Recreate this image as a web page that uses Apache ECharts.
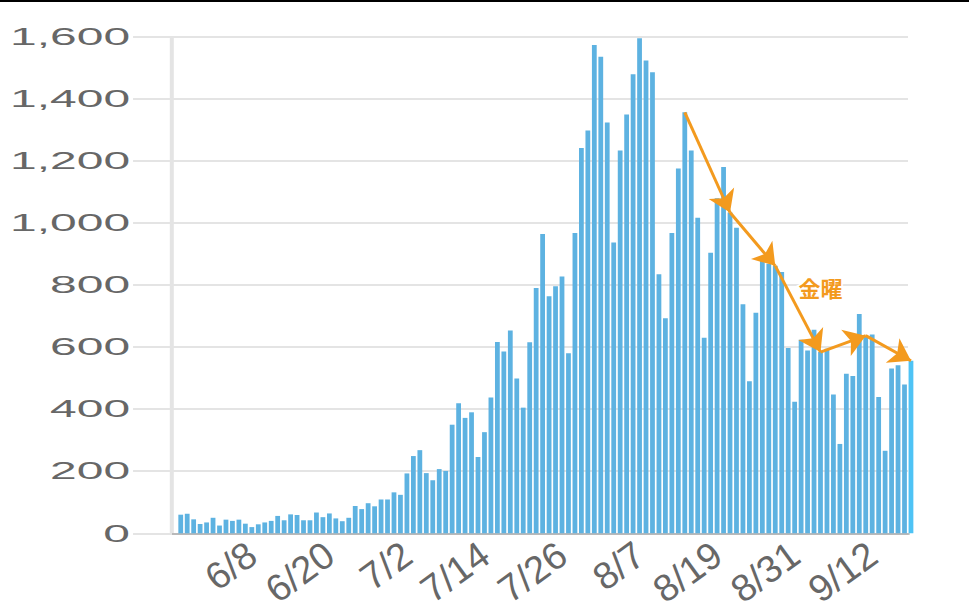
<!DOCTYPE html>
<html>
<head>
<meta charset="utf-8">
<script src="https://cdn.jsdelivr.net/npm/echarts@6/dist/echarts.min.js"></script>
<style>
  html, body { margin: 0; padding: 0; background: #fff; }
  body { width: 969px; height: 614px; position: relative; overflow: hidden; }
  #topline { position: absolute; left: 0; top: 0; width: 969px; height: 2px; background: #000; z-index: 5; }
  #c { position: absolute; left: 0; top: 0; width: 485px; height: 614px; transform-origin: 0 0; }
  #o { position: absolute; left: 0; top: 0; width: 969px; height: 614px; pointer-events: none; }
</style>
</head>
<body>
<div id="topline"></div>
<div id="c"></div>
<div id="o"></div>
<script>
// ---- data ----
const categories = [
  '5/27','5/28','5/29','5/30','5/31',
  '6/1','6/2','6/3','6/4','6/5','6/6','6/7','6/8','6/9','6/10','6/11','6/12','6/13','6/14','6/15',
  '6/16','6/17','6/18','6/19','6/20','6/21','6/22','6/23','6/24','6/25','6/26','6/27','6/28','6/29','6/30',
  '7/1','7/2','7/3','7/4','7/5','7/6','7/7','7/8','7/9','7/10','7/11','7/12','7/13','7/14','7/15','7/16',
  '7/17','7/18','7/19','7/20','7/21','7/22','7/23','7/24','7/25','7/26','7/27','7/28','7/29','7/30','7/31',
  '8/1','8/2','8/3','8/4','8/5','8/6','8/7','8/8','8/9','8/10','8/11','8/12','8/13','8/14','8/15','8/16',
  '8/17','8/18','8/19','8/20','8/21','8/22','8/23','8/24','8/25','8/26','8/27','8/28','8/29','8/30','8/31',
  '9/1','9/2','9/3','9/4','9/5','9/6','9/7','9/8','9/9','9/10','9/11','9/12','9/13','9/14','9/15','9/16','9/17'
];
const cases = [
  60, 63, 45, 30, 35,
  50, 25, 44, 40, 44, 31, 20, 29, 35, 40, 56, 42, 61, 59, 42,
  42, 67, 52, 64, 48, 39, 50, 88, 78, 97, 87, 109, 109, 132, 124,
  193, 249, 268, 194, 171, 207, 201, 350, 419, 372, 390, 246, 326, 438, 617, 586,
  654, 499, 405, 616, 791, 965, 764, 796, 828, 580, 968, 1242, 1298, 1574, 1536,
  1324, 937, 1234, 1350, 1480, 1596, 1524, 1486, 835, 693, 968, 1176, 1357, 1234, 1017, 630,
  904, 1080, 1181, 1034, 985, 738, 490, 711, 891, 869, 862, 842, 597, 424, 624,
  589, 656, 584, 595, 447, 288, 514, 507, 707, 637, 641, 439, 266, 531, 542, 480, 556
];
const xTickLabels = ['6/8','6/20','7/2','7/14','7/26','8/7','8/19','8/31','9/12'];
const yTicks = [0, 200, 400, 600, 800, 1000, 1200, 1400, 1600];
const fridays = ['8/13','8/20','8/27','9/3','9/10','9/17'];
const annotationText = '金曜';

// ---- layout (plot area of the reference is horizontally stretched x2) ----
const W = 485, H = 614, S = 969 / W;
document.getElementById('c').style.transform = 'scaleX(' + S + ')';
const TOP = 36.9, BOTTOM = 614 - 533.3;
const axisLeftPx = 172, axisRightPx = 908;
const bandLeftPx = 177.5, bandRightPx = 914.2;
const labelShift = 6;

const barColor = '#5DB2E1';
const lastColor = '#4EC3F5';
const gridColor = '#e4e4e4';
const labelColor = '#676767';
const orange = '#F39A1E';
const fontFam = 'Liberation Sans, Arial, Helvetica, sans-serif';

const barData = cases.map((v, i) => i === cases.length - 1
  ? { value: v, itemStyle: { color: lastColor } }
  : v);

const chart = echarts.init(document.getElementById('c'), null, { renderer: 'svg' });
chart.setOption({
  animation: false,
  backgroundColor: '#fff',
  grid: [
    { left: axisLeftPx / S, right: W - axisRightPx / S, top: TOP, bottom: BOTTOM },
    { left: bandLeftPx / S, right: W - bandRightPx / S, top: TOP, bottom: BOTTOM }
  ],
  xAxis: [
    { gridIndex: 0, type: 'value', min: 0, max: 1,
      axisLine: { show: true, onZero: false, lineStyle: { color: '#b9b9b9', width: 2 } },
      axisTick: { show: false }, axisLabel: { show: false }, splitLine: { show: false } },
    { gridIndex: 1, type: 'category', data: categories, boundaryGap: true,
      axisLine: { show: false }, axisTick: { show: false }, splitLine: { show: false },
      axisLabel: { show: false } }
  ],
  yAxis: [
    { gridIndex: 0, type: 'value', min: yTicks[0], max: yTicks[yTicks.length - 1], interval: 200,
      axisLine: { show: true, lineStyle: { color: gridColor, width: 2 } },
      axisTick: { show: true, length: 19.5, lineStyle: { color: gridColor, width: 2 } },
      splitLine: { show: true, lineStyle: { color: gridColor, width: 2 } },
      axisLabel: {
        margin: 21, fontFamily: fontFam, fontSize: 24, color: labelColor,
        formatter: v => v.toLocaleString('en-US')
      } },
    { gridIndex: 1, type: 'value', min: yTicks[0], max: yTicks[yTicks.length - 1], interval: 200,
      axisLine: { show: false }, axisTick: { show: false }, splitLine: { show: false }, axisLabel: { show: false } }
  ],
  series: [{
    type: 'bar', xAxisIndex: 1, yAxisIndex: 1,
    data: barData, barWidth: '74%',
    itemStyle: { color: barColor }
  }]
});

// ---- overlay at native scale: date labels, Friday arrows, annotation ----
const ov = echarts.init(document.getElementById('o'), null, { renderer: 'svg' });
const pts = fridays.map(d => [d, cases[categories.indexOf(d)]]);
const segs = [];
for (let i = 0; i < pts.length - 1; i++) {
  segs.push([{ coord: pts[i] }, { coord: pts[i + 1] }]);
}
ov.setOption({
  animation: false,
  grid: [
    { left: bandLeftPx, right: 969 - bandRightPx, top: TOP, bottom: BOTTOM },
    { left: bandLeftPx - labelShift, right: 969 - bandRightPx + labelShift, top: TOP, bottom: BOTTOM }
  ],
  xAxis: [
    { gridIndex: 0, type: 'category', data: categories, show: false },
    { gridIndex: 1, type: 'category', data: categories, boundaryGap: true,
      axisLine: { show: false }, axisTick: { show: false }, splitLine: { show: false },
      axisLabel: {
        interval: (i, v) => xTickLabels.includes(v),
        rotate: 36, margin: 17,
        fontFamily: fontFam, fontSize: 38, color: labelColor
      } }
  ],
  yAxis: [
    { gridIndex: 0, type: 'value', min: 0, max: 1600, show: false },
    { gridIndex: 1, type: 'value', min: 0, max: 1600, show: false }
  ],
  series: [{
    type: 'line', data: cases, showSymbol: false, silent: true,
    xAxisIndex: 0, yAxisIndex: 0,
    lineStyle: { opacity: 0 },
    markLine: {
      silent: true, symbol: ['none', 'arrow'], symbolSize: 21,
      label: { show: false },
      lineStyle: { color: orange, width: 3, type: 'solid' },
      emphasis: { disabled: true },
      data: segs
    }
  }],
  graphic: [{
    type: 'text', left: 797, top: 274, z: 10,
    style: {
      text: annotationText, fill: orange,
      font: 'bold 22px "Noto Sans CJK JP", sans-serif',
      stroke: '#fff', lineWidth: 3
    }
  }]
});
</script>
</body>
</html>
